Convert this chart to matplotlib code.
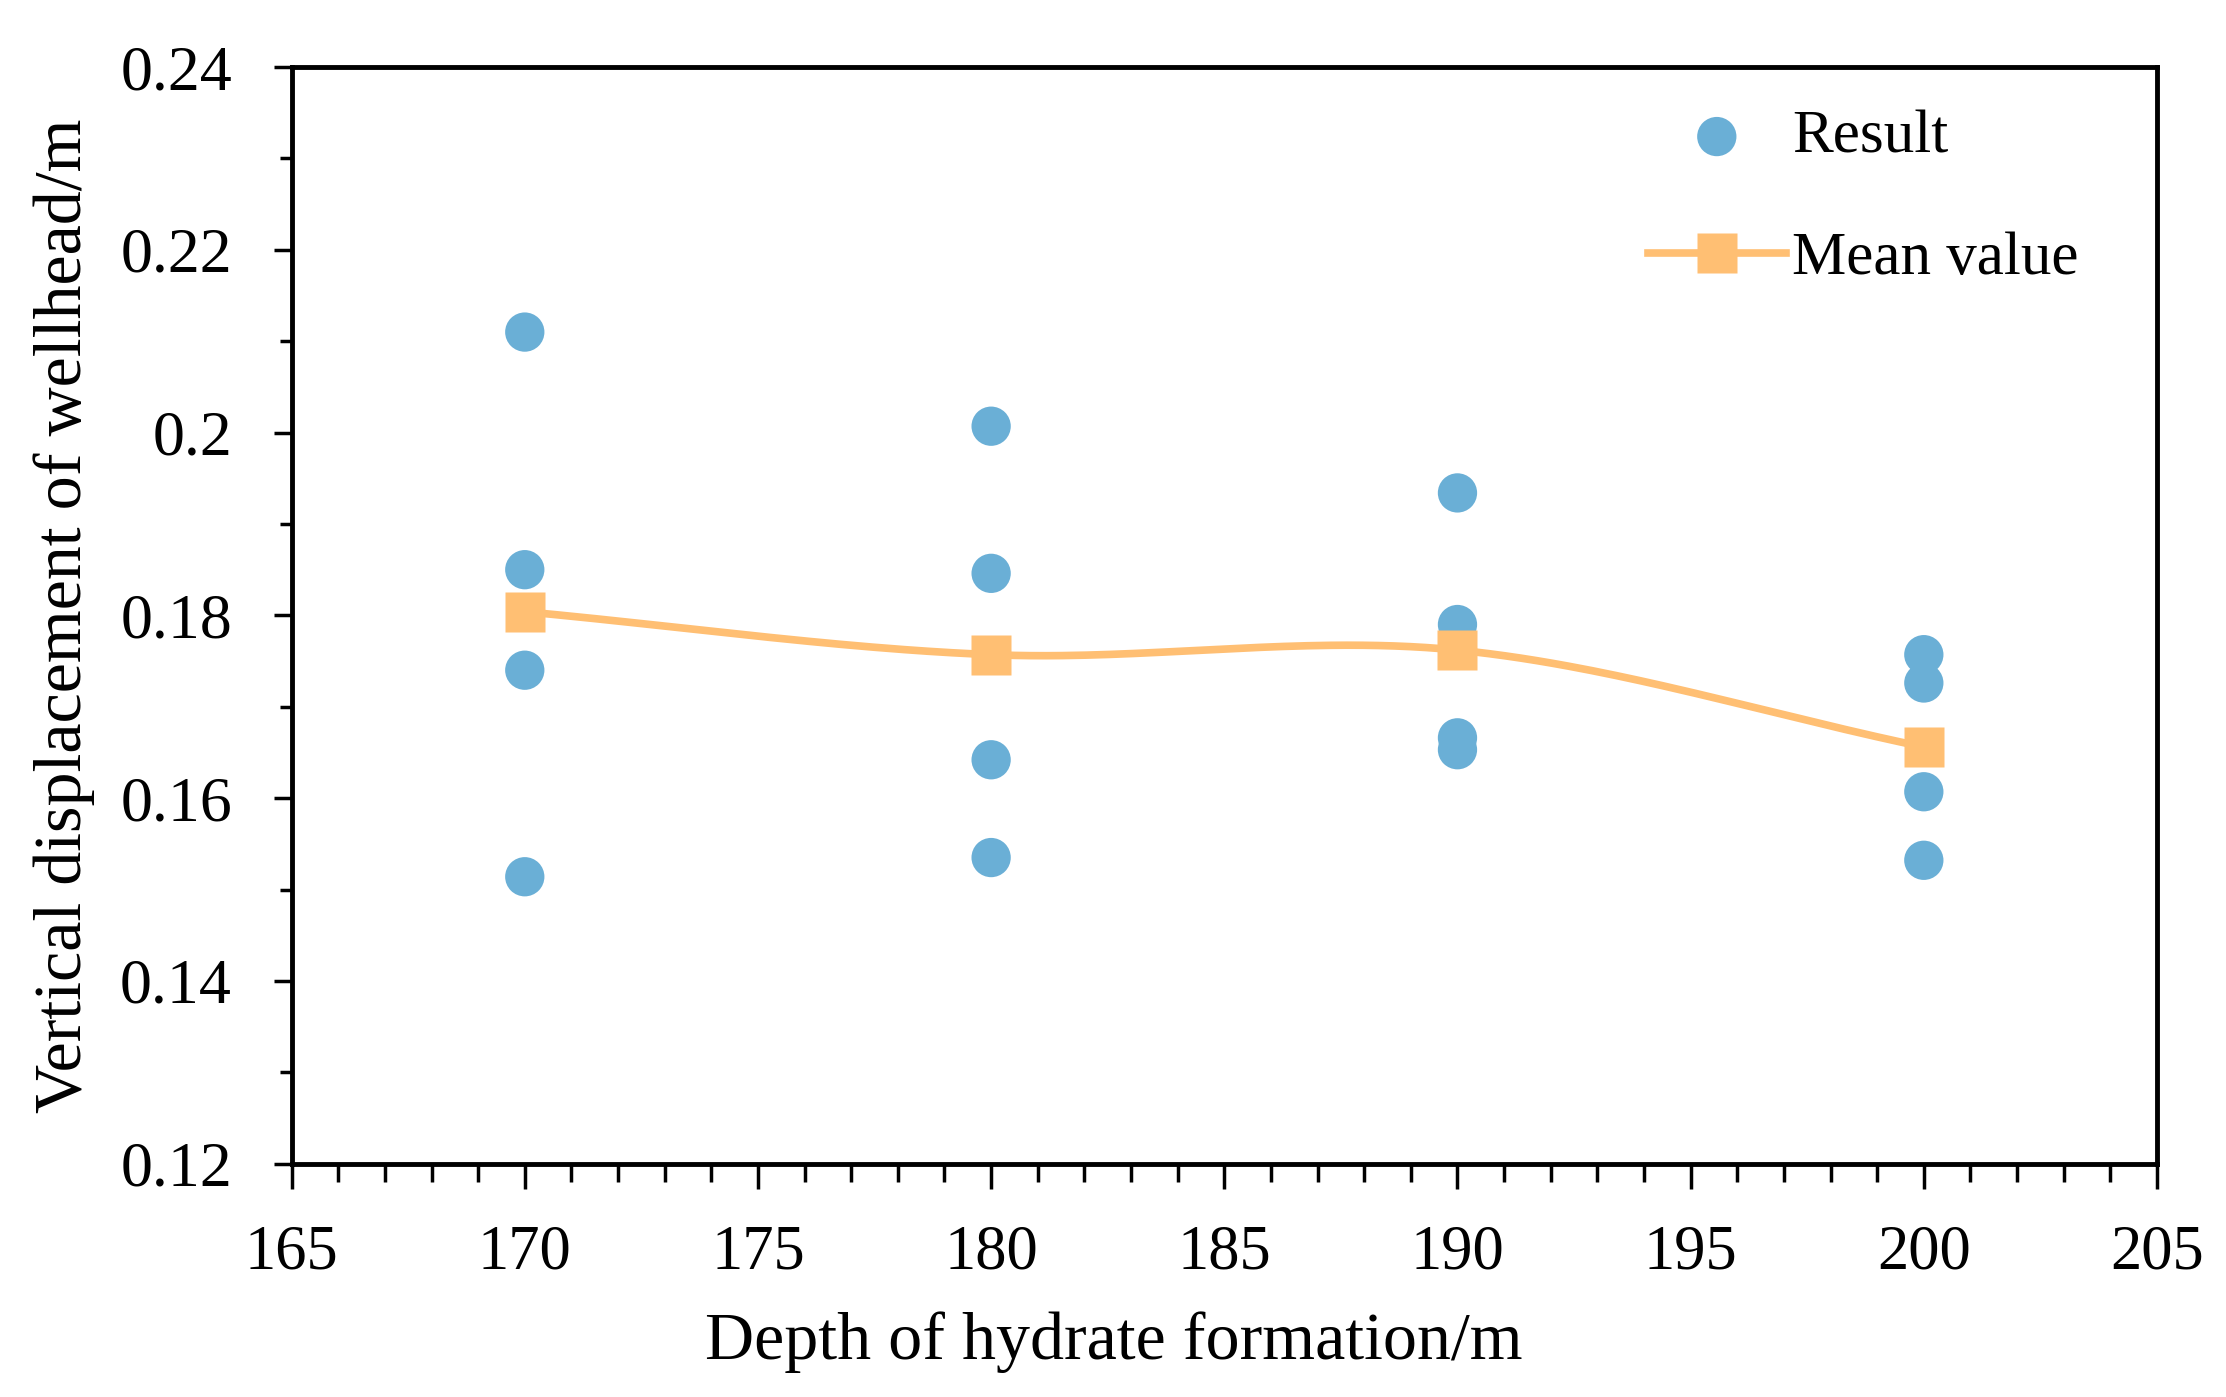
import numpy as np
import matplotlib
matplotlib.use("Agg")
import matplotlib.pyplot as plt
from matplotlib.ticker import MultipleLocator, FuncFormatter

plt.rcParams['font.family'] = ['Liberation Serif', 'DejaVu Serif']

########################## DATA ##########################

depths = [170, 180, 190, 200]

results_170 = [0.211, 0.185, 0.174, 0.1514]
results_180 = [0.2007, 0.1846, 0.1642, 0.1535]
results_190 = [0.1934, 0.1790, 0.1666, 0.1653]
results_200 = [0.1757, 0.1726, 0.1607, 0.1532]

mean_values = [0.1804, 0.1757, 0.1762, 0.1656]

blue = "#6AAFD6"
orange = "#FFBF73"

########################## SMOOTH LINE (Excel-like) ##########################

def catmull_rom(xs, ys, n=60):
    xs = np.asarray(xs, float)
    ys = np.asarray(ys, float)
    px = np.concatenate([[2 * xs[0] - xs[1]], xs, [2 * xs[-1] - xs[-2]]])
    py = np.concatenate([[2 * ys[0] - ys[1]], ys, [2 * ys[-1] - ys[-2]]])
    out_x, out_y = [], []
    for i in range(1, len(px) - 2):
        t = np.linspace(0, 1, n)
        for p, out in ((px, out_x), (py, out_y)):
            p0, p1, p2, p3 = p[i - 1], p[i], p[i + 1], p[i + 2]
            out.extend(0.5 * ((2 * p1) + (-p0 + p2) * t
                              + (2 * p0 - 5 * p1 + 4 * p2 - p3) * t ** 2
                              + (-p0 + 3 * p1 - 3 * p2 + p3) * t ** 3))
    return out_x, out_y

########################## PLOT ##########################

fig = plt.figure(figsize=(22.26, 13.97), dpi=100)
ax = fig.add_axes([0.131, 0.167, 0.838, 0.785])

all_results = [results_170, results_180, results_190, results_200]
xs = [d for d, r in zip(depths, all_results) for _ in r]
ys = [v for r in all_results for v in r]
ax.scatter(xs, ys, s=800, color=blue, edgecolors="none", zorder=2, label="Result")

sx, sy = catmull_rom(depths, mean_values)
ax.plot(sx, sy, color=orange, lw=5.5, zorder=3)
ax.plot(depths, mean_values, ls="none", marker="s", ms=29, color=orange,
        mec="none", zorder=4)
# legend proxy
ax.plot([], [], color=orange, lw=5.5, marker="s", ms=29, mec="none", label="Mean value")

ax.set_xlim(165, 205)
ax.set_ylim(0.12, 0.24)
ax.xaxis.set_major_locator(MultipleLocator(5))
ax.xaxis.set_minor_locator(MultipleLocator(1))
ax.yaxis.set_major_locator(MultipleLocator(0.02))
ax.yaxis.set_minor_locator(MultipleLocator(0.01))
ax.yaxis.set_major_formatter(FuncFormatter(lambda v, p: f"{v:.2f}".rstrip("0")))

ax.tick_params(axis="x", which="major", direction="out", length=18, width=2.5,
               labelsize=45, pad=26)
ax.tick_params(axis="x", which="minor", direction="out", length=13, width=2.5)
ax.tick_params(axis="y", which="major", direction="out", length=13, width=2.5,
               labelsize=46, pad=30)
ax.tick_params(axis="y", which="minor", direction="out", length=9, width=2.5)
for sp in ax.spines.values():
    sp.set_linewidth(3.5)

ax.set_xlabel("Depth of hydrate formation/m", fontsize=49)
ax.xaxis.set_label_coords(0.441, -0.1785)
ax.xaxis.label.set_verticalalignment("baseline")

ax.set_ylabel("Vertical displacement of wellhead/m", fontsize=49)
ax.yaxis.set_label_coords(-0.113, 0.5)
ax.yaxis.label.set_verticalalignment("baseline")

ax.legend(loc="upper left", frameon=False, fontsize=44, handlelength=2.26,
          handletextpad=0.1, labelspacing=1.08, borderaxespad=0, borderpad=0,
          bbox_to_anchor=(0.727, 0.961))

fig.savefig("out.png", dpi=100)
